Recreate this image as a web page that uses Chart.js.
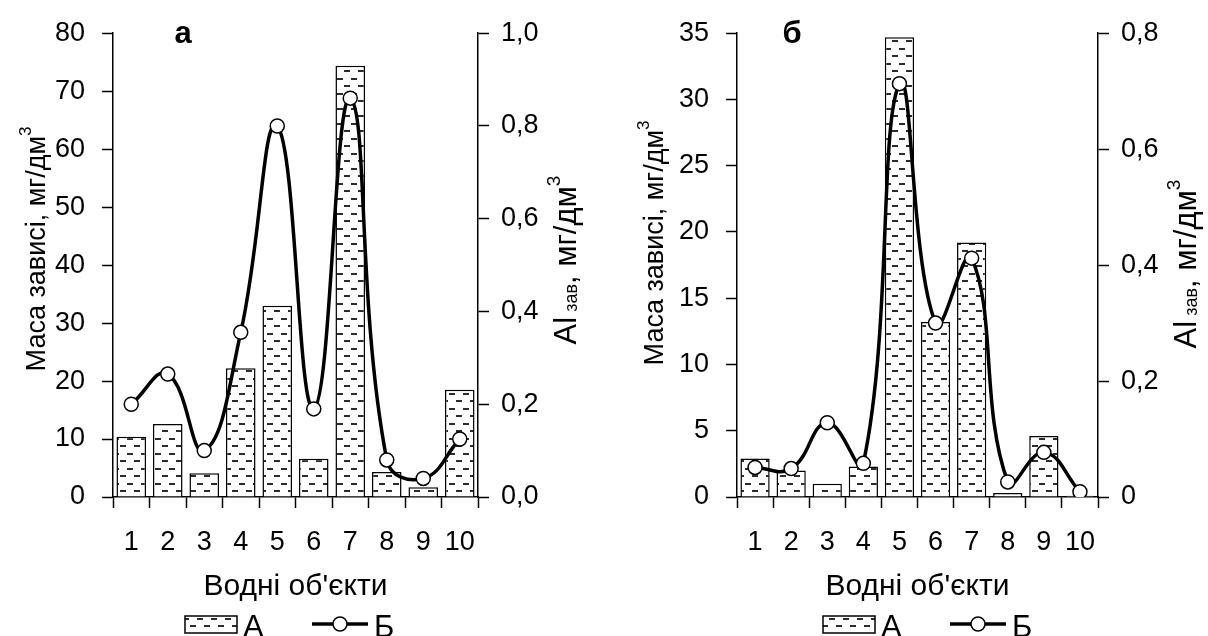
<!DOCTYPE html>
<html>
<head>
<meta charset="utf-8">
<script src="https://cdn.jsdelivr.net/npm/chart.js@4/dist/chart.umd.min.js"></script>
<style>
    body { margin: 0; background: #fff; }
    .panel { position: absolute; top: 0; width: 604px; height: 636px; }
</style>
</head>
<body>
<div class="panel" style="left:0"><canvas id="chartA" width="604" height="636"></canvas></div>
<div class="panel" style="left:604px"><canvas id="chartB" width="604" height="636"></canvas></div>
<script>
// Water bodies 1..10
const categories = ['1', '2', '3', '4', '5', '6', '7', '8', '9', '10'];

// Panel "а": suspended matter mass (A) and Al in suspension (Б)
const massA = [10.4, 12.6, 4.1, 22.2, 33.0, 6.6, 74.4, 4.3, 1.7, 18.5];
const alA = [0.20, 0.265, 0.10, 0.355, 0.80, 0.19, 0.86, 0.08, 0.04, 0.125];

// Panel "б"
const massB = [2.9, 2.0, 1.0, 2.3, 34.7, 13.2, 19.2, 0.3, 4.6, 0.1];
const alB = [0.051, 0.049, 0.128, 0.058, 0.713, 0.30, 0.412, 0.026, 0.077, 0.009];

// Right axis tick labels
const alTicksA = ['0,0', '0,2', '0,4', '0,6', '0,8', '1,0'];
const alTicksB = ['0', '0,2', '0,4', '0,6', '0,8'];

const FONT = '"Liberation Sans", Arial, sans-serif';

// Dashed horizontal hatch used for the bars
function makeHatch() {
    const c = document.createElement('canvas');
    c.width = 14;
    c.height = 15;
    const g = c.getContext('2d');
    g.fillStyle = '#fff';
    g.fillRect(0, 0, 14, 15);
    g.fillStyle = '#2b2b2b';
    g.fillRect(1, 3, 6, 2);
    g.fillRect(8, 10, 6, 2);
    return g.createPattern(c, 'repeat');
}
const hatch = makeHatch();

// Rotated title made of runs: [text, size, shift]
function rotatedTitle(ctx, x, y, runs) {
    ctx.save();
    ctx.translate(x, y);
    ctx.rotate(-Math.PI / 2);
    ctx.fillStyle = '#000';
    ctx.textAlign = 'left';
    ctx.textBaseline = 'alphabetic';
    let total = 0;
    runs.forEach(r => {
        ctx.font = r[1] + 'px ' + FONT;
        total += ctx.measureText(r[0]).width;
    });
    let cx = -total / 2;
    runs.forEach(r => {
        ctx.font = r[1] + 'px ' + FONT;
        ctx.fillText(r[0], cx, r[2]);
        cx += ctx.measureText(r[0]).width;
    });
    ctx.restore();
}

// Panel letter, axis titles and legend
const decorations = {
    id: 'decorations',
    afterDraw(chart, args, opts) {
        const ctx = chart.ctx;
        const area = chart.chartArea;
        ctx.save();
        ctx.fillStyle = '#000';

        ctx.font = 'bold 31px ' + FONT;
        ctx.textAlign = 'center';
        ctx.fillText(opts.letter, opts.letterX, 43);

        rotatedTitle(ctx, opts.leftTitleX, opts.leftTitleY, [
            ['Маса зависі, мг/дм', 27, 0],
            ['3', 17, -14]
        ]);
        rotatedTitle(ctx, opts.rightTitleX, opts.rightTitleY, [
            ['Al', 31, 0],
            [' зав', 18, 1],
            [', мг/дм', 31, 0],
            ['3', 19, -16]
        ]);

        ctx.font = '30px ' + FONT;
        ctx.textAlign = 'center';
        ctx.fillText("Водні об'єкти", (area.left + area.right) / 2, 595);

        // legend
        const lx = opts.legendX;
        const ly = 624;
        ctx.fillStyle = hatch;
        ctx.fillRect(lx, ly - 8, 52, 17);
        ctx.strokeStyle = '#000';
        ctx.lineWidth = 1.5;
        ctx.strokeRect(lx, ly - 8, 52, 17);
        ctx.fillStyle = '#000';
        ctx.textAlign = 'left';
        ctx.font = '31px ' + FONT;
        ctx.fillText('А', lx + 58, 637);

        ctx.lineWidth = 3.5;
        ctx.beginPath();
        ctx.moveTo(lx + 127, ly);
        ctx.lineTo(lx + 183, ly);
        ctx.stroke();
        ctx.beginPath();
        ctx.arc(lx + 155, ly, 7, 0, Math.PI * 2);
        ctx.fillStyle = '#fff';
        ctx.fill();
        ctx.lineWidth = 1.5;
        ctx.stroke();
        ctx.fillStyle = '#000';
        ctx.fillText('Б', lx + 189, 637);
        ctx.restore();
    }
};

function buildChart(id, mass, al, cfg) {
    const axisBase = {
        border: { color: '#000', width: 1.5 },
        grid: { drawOnChartArea: false, drawTicks: true, tickLength: 11, tickColor: '#000', tickWidth: 1.5 },
        ticks: { color: '#000', font: { family: FONT, size: 27 } }
    };
    return new Chart(document.getElementById(id), {
        data: {
            labels: categories,
            datasets: [
                {
                    type: 'line',
                    label: 'Б',
                    data: al,
                    yAxisID: 'y1',
                    order: 0,
                    borderColor: '#000',
                    borderWidth: 3.5,
                    tension: 0.45,
                    pointRadius: 7,
                    pointBorderWidth: 1.5,
                    pointBackgroundColor: '#fff',
                    pointBorderColor: '#000'
                },
                {
                    type: 'bar',
                    label: 'А',
                    data: mass,
                    yAxisID: 'y',
                    order: 1,
                    backgroundColor: hatch,
                    borderColor: '#000',
                    borderWidth: 1.5,
                    barPercentage: 0.81,
                    categoryPercentage: 1.0
                }
            ]
        },
        options: {
            responsive: false,
            animation: false,
            devicePixelRatio: 1,
            layout: { padding: { top: 27, left: 0, right: 0, bottom: 0 } },
            plugins: {
                legend: { display: false },
                tooltip: { enabled: false },
                decorations: cfg.deco
            },
            scales: {
                x: {
                    ...axisBase,
                    offset: true,
                    grid: { ...axisBase.grid, offset: true },
                    ticks: { ...axisBase.ticks, padding: 18, maxRotation: 0, autoSkip: false },
                    afterFit: s => { s.height = 139; }
                },
                y: {
                    ...axisBase,
                    position: 'left',
                    min: 0,
                    max: cfg.massMax,
                    ticks: { ...axisBase.ticks, stepSize: cfg.massStep, padding: 17 },
                    afterFit: s => { s.width = cfg.leftWidth; }
                },
                y1: {
                    ...axisBase,
                    position: 'right',
                    min: 0,
                    max: cfg.alMax,
                    ticks: {
                        ...axisBase.ticks,
                        stepSize: 0.2,
                        padding: 12,
                        callback: (v, i) => cfg.alTicks[i]
                    },
                    afterFit: s => { s.width = cfg.rightWidth; }
                }
            }
        },
        plugins: [decorations]
    });
}

buildChart('chartA', massA, alA, {
    massMax: 80, massStep: 10, alMax: 1.0, alTicks: alTicksA,
    leftWidth: 113, rightWidth: 126,
    deco: {
        letter: 'а', letterX: 183,
        leftTitleX: 45, leftTitleY: 249,
        rightTitleX: 576, rightTitleY: 260,
        legendX: 185
    }
});

buildChart('chartB', massB, alB, {
    massMax: 35, massStep: 5, alMax: 0.8, alTicks: alTicksB,
    leftWidth: 133, rightWidth: 110,
    deco: {
        letter: 'б', letterX: 188,
        leftTitleX: 59, leftTitleY: 243,
        rightTitleX: 592, rightTitleY: 264,
        legendX: 219
    }
});
</script>
</body>
</html>
